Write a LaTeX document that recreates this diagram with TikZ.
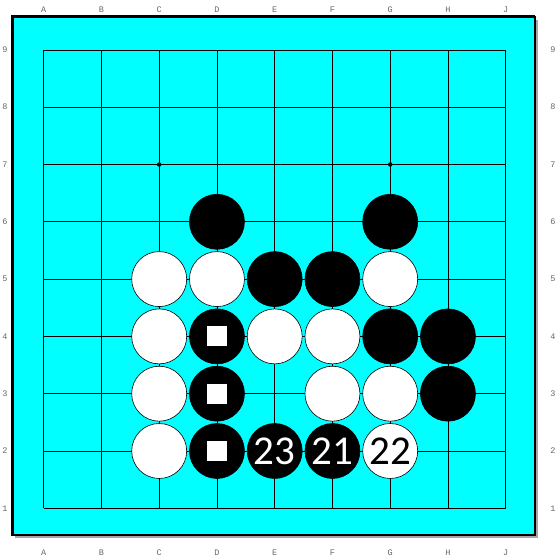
\documentclass[tikz,border=0pt]{standalone}
\usepackage{fontspec}
\newfontfamily\stonefont{Carlito}
\newfontfamily\labelfont{Liberation Mono}
\usetikzlibrary{positioning}
\definecolor{boardcyan}{RGB}{0,255,255}

\begin{document}
\begin{tikzpicture}[
    x=1pt, y=1pt,
    board/.style={fill=boardcyan, draw=black, line width=1.4pt},
    gridline/.style={draw=black, line width=0.7pt},
    coordlabel/.style={font=\labelfont\fontsize{8.5}{8.5}\selectfont, text=black!60, inner sep=0pt},
    hoshi/.style={circle, fill=black, minimum size=4.5pt, inner sep=0pt},
    stone/.style={circle, minimum size=55pt, inner sep=0pt, line width=0.6pt, font=\stonefont\fontsize{41}{41}\selectfont},
    blackstone/.style={stone, fill=black, draw=black, text=white},
    whitestone/.style={stone, fill=white, draw=black, text=black},
    marksq/.style={rectangle, fill=white, minimum size=20pt, inner sep=0pt}
]
\useasboundingbox (0,0) rectangle (558,557);

% board with shadow
\fill[black!35] (15,19) rectangle (538,537);
\draw[board] (12,22) rectangle (535,540);
\draw[line width=3pt] (12,21) -- (12,540) -- (535,540);

% coordinates round the board
\foreach \c [count=\i from 0] in {A,B,C,D,E,F,G,H,J} {
  \node[coordlabel] (top\c) at (43.7+57.75*\i, 547) {\c};
  \node[coordlabel] (bot\c) at (43.7+57.75*\i, 4) {\c};
}
\foreach \r in {1,...,9} {
  \node[coordlabel] (left\r) at (5, 48.7+57.3*\r-57.3) {\r};
  \node[coordlabel] (right\r) at (553, 48.7+57.3*\r-57.3) {\r};
}

\begin{scope}[shift={(43.7,48.7)}, x=57.75pt, y=57.3pt]
% grid
\foreach \i in {0,...,8} {
  \draw[gridline] (\i,0) -- (\i,8);
  \draw[gridline] (0,\i) -- (8,\i);
}
\foreach \p/\q in {2/2,6/2,4/4,2/6,6/6}
  \node[hoshi] (star\p\q) at (\p,\q) {};

% white stones
\node[whitestone] (wC5) at (2,4) {};
\node[whitestone] (wD5) at (3,4) {};
\node[whitestone] (wG5) at (6,4) {};
\node[whitestone] (wC4) at (2,3) {};
\node[whitestone] (wE4) at (4,3) {};
\node[whitestone] (wF4) at (5,3) {};
\node[whitestone] (wC3) at (2,2) {};
\node[whitestone] (wF3) at (5,2) {};
\node[whitestone] (wG3) at (6,2) {};
\node[whitestone] (wC2) at (2,1) {};
\node[whitestone] (wG2) at (6,1) {22};

% black stones
\node[blackstone] (bD6) at (3,5) {};
\node[blackstone] (bG6) at (6,5) {};
\node[blackstone] (bE5) at (4,4) {};
\node[blackstone] (bF5) at (5,4) {};
\node[blackstone] (bD4) at (3,3) {};
\node[blackstone] (bG4) at (6,3) {};
\node[blackstone] (bH4) at (7,3) {};
\node[blackstone] (bD3) at (3,2) {};
\node[blackstone] (bH3) at (7,2) {};
\node[blackstone] (bD2) at (3,1) {};
\node[blackstone] (bE2) at (4,1) {23};
\node[blackstone] (bF2) at (5,1) {21};

% marked stones
\node[marksq] (mD4) at (bD4) {};
\node[marksq] (mD3) at (bD3) {};
\node[marksq] (mD2) at (bD2) {};
\end{scope}
\end{tikzpicture}
\end{document}
